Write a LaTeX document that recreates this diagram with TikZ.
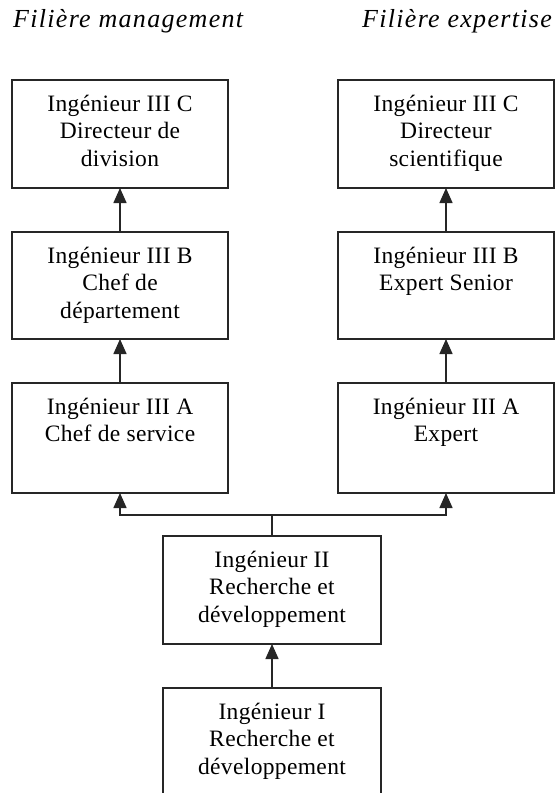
\documentclass[tikz,border=0pt]{standalone}
\usepackage{fontspec}
\setmainfont{Liberation Serif}
\newfontfamily\boxfont[LetterSpace=1.5]{Liberation Serif}
\newfontfamily\titlefont[LetterSpace=5]{Liberation Serif}
\usetikzlibrary{arrows.meta}
\newcommand{\bxt}[3]{\parbox[c][#1][t]{#2}{\centering\boxfont\fontsize{23.5}{27.5}\selectfont\rule{0pt}{31pt}#3\par}}
\tikzset{
  box/.style={draw=black!85, line width=1.4pt, inner sep=0pt, outer sep=0pt},
  link/.style={draw=black!85, line width=1.5pt},
  arr/.style={link, -{Triangle[length=15pt,width=13pt]}},
  ttl/.style={inner sep=0pt, font=\titlefont\itshape\fontsize{26}{30}\selectfont}
}
\begin{document}
\begin{tikzpicture}[x=1pt,y=-1pt]
\useasboundingbox (0,0) rectangle (555,793);
\path[clip] (0,0) rectangle (555,793);
\node[ttl, anchor=base west] (tm) at (13,27) {Filière management};
\node[ttl, anchor=base east] (te) at (552,27) {Filière expertise};
\node[box] (l3) at (120,134) {\bxt{108pt}{216pt}{Ingénieur III C\\Directeur de\\division}};
\node[box] (l2) at (120,285.5) {\bxt{107pt}{216pt}{Ingénieur III B\\Chef de\\département}};
\node[box] (l1) at (120,438) {\bxt{110pt}{216pt}{Ingénieur III A\\Chef de service}};
\node[box] (r3) at (446,134) {\bxt{108pt}{216pt}{Ingénieur III C\\Directeur\\scientifique}};
\node[box] (r2) at (446,285.5) {\bxt{107pt}{216pt}{Ingénieur III B\\Expert Senior}};
\node[box] (r1) at (446,438) {\bxt{110pt}{216pt}{Ingénieur III A\\Expert}};
\node[box] (m2) at (272,590) {\bxt{108pt}{218pt}{Ingénieur II\\Recherche et\\développement}};
\node[box] (m1) at (272,753) {\bxt{130pt}{218pt}{Ingénieur I\\Recherche et\\développement}};
\coordinate (j) at (272,515);
\draw[arr] (l1.north) -- (l2.south);
\draw[arr] (l2.north) -- (l3.south);
\draw[arr] (r1.north) -- (r2.south);
\draw[arr] (r2.north) -- (r3.south);
\draw[arr] (m1.north) -- (m2.south);
\draw[link] (m2.north) -- (j);
\draw[arr] (j) -| (l1.south);
\draw[arr] (j) -| (r1.south);
\end{tikzpicture}
\end{document}
